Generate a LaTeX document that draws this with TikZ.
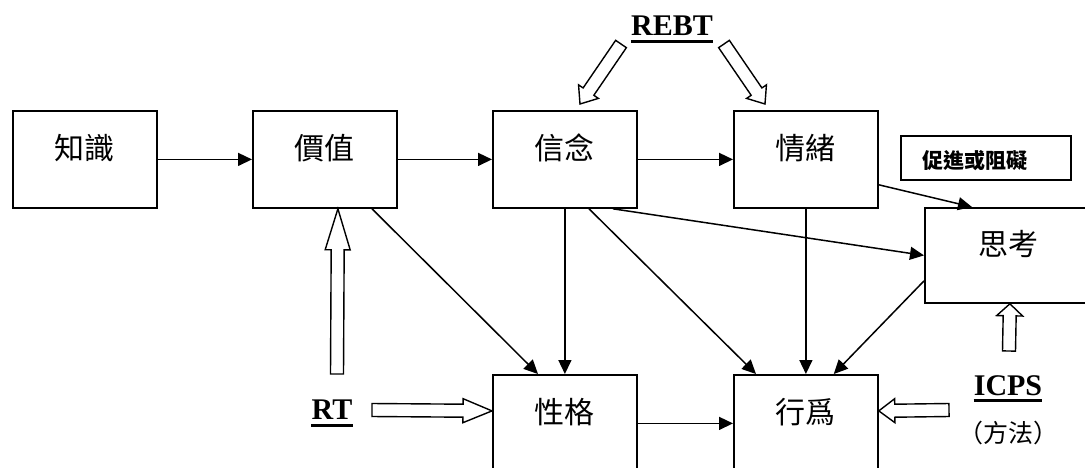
\documentclass[tikz,border=0pt]{standalone}
\usepackage{fontspec}
\setmainfont{Liberation Serif}
\newfontfamily\cjk{Noto Sans CJK TC}
\usetikzlibrary{arrows.meta,calc}
\tikzset{
  box/.style={draw, line width=1.8pt, minimum width=144pt, minimum height=97pt, inner sep=0pt, anchor=north west, font=\cjk\fontsize{30}{30}\selectfont, text height=10pt, text depth=10pt},
  arr/.style={line width=1.5pt, -{Triangle[length=14pt,width=13pt]}},
  blk/.style={draw, line width=1.4pt, fill=white, line join=miter},
  lbl/.style={font=\bfseries\fontsize{30}{30}\selectfont, inner sep=0pt, anchor=base},
  uline/.style={line width=3pt}
}
\newcommand{\blkarrow}[4]{%
  \coordinate (bh) at ($(#2)!#3!(#1)$);
  \draw[blk] ($(#1)!6.5pt!90:(#2)$) -- ($(bh)!6.5pt!90:(#2)$) -- ($(bh)!#4!90:(#2)$) -- (#2) -- ($(bh)!#4!-90:(#2)$) -- ($(bh)!6.5pt!-90:(#2)$) -- ($(#1)!6.5pt!-90:(#2)$) -- cycle;}
\begin{document}
\begin{tikzpicture}[x=1pt,y=-1pt]
\useasboundingbox (0,0) rectangle (1085,467);
\clip (0,0) rectangle (1085,467);
% boxes
\node[box] (zs) at (12,110) {知識};
\node[box] (jz) at (252,110) {價值};
\node[box] (xn) at (492,110) {信念};
\node[box] (qx) at (733,110) {情緒};
\node[box, minimum width=168pt, minimum height=95pt] (sk) at (924,207) {思考};
\node[box] (xg) at (492,374) {性格};
\node[box] (xw) at (733,374) {行爲};
\node[draw, line width=1.6pt, minimum height=44pt, text width=126pt, inner xsep=22pt, inner ysep=0pt, align=left, anchor=north west, font=\cjk\bfseries\fontsize{21}{21}\selectfont, text height=22pt, text depth=0pt] (cj) at (900,135) {促進或阻礙};
% labels
\node[lbl] (rebt) at (672,35) {REBT};
\draw[uline] ([yshift=-6pt]rebt.base west) -- ([yshift=-6pt]rebt.base east);
\node[lbl] (rt) at (332,419) {RT};
\draw[uline] ([yshift=-6pt]rt.base west) -- ([yshift=-6pt]rt.base east);
\node[lbl] (icps) at (1008,395) {ICPS};
\draw[uline] ([yshift=-5.5pt]icps.base west) -- ([yshift=-5.5pt]icps.base east);
\node[anchor=base, font=\cjk\fontsize{25}{25}\selectfont, inner sep=0pt] (ff) at (1008,442) {（方法）};
% connectors
\draw[arr] (zs) -- (jz);
\draw[arr] (jz) -- (xn);
\draw[arr] (xn) -- (qx);
\draw[arr] ([xshift=120pt]jz.south west) -- ([xshift=46pt]xg.north west);
\draw[arr] (xn.south) -- (xg.north);
\draw[arr] ([xshift=97pt]xn.south west) -- ([xshift=23pt]xw.north west);
\draw[arr] ([xshift=121pt]xn.south west) -- (sk.west);
\draw[arr] ([yshift=24pt]qx.south east) -- ([xshift=48pt]sk.north west);
\draw[arr] (qx.south) -- (xw.north);
\draw[arr] ([yshift=-25.5pt]sk.west) -- ([xshift=-45pt]xw.north east);
\draw[arr] (xg) -- (xw);
% block arrows
\coordinate (rebtL) at (621,44);
\coordinate (rebtLt) at (580,104);
\coordinate (rebtR) at (724,44);
\coordinate (rebtRt) at (765,104);
\blkarrow{rebtL}{rebtLt}{15pt}{12pt}
\blkarrow{rebtR}{rebtRt}{15pt}{12pt}
\coordinate (rtU) at (337,374);
\coordinate (rtUt) at ([xshift=13pt]jz.south);
\blkarrow{rtU}{rtUt}{41pt}{12.5pt}
\coordinate (rtR) at (372,410);
\coordinate (rtRt) at ([yshift=12.5pt]xg.west);
\blkarrow{rtR}{rtRt}{29pt}{12pt}
\coordinate (icL) at (949,410);
\coordinate (icLt) at ([yshift=12.5pt]xw.east);
\blkarrow{icL}{icLt}{16pt}{12pt}
\coordinate (icU) at (1009,351);
\coordinate (icUt) at ([xshift=1pt]sk.south);
\blkarrow{icU}{icUt}{12pt}{13pt}
\end{tikzpicture}
\end{document}
